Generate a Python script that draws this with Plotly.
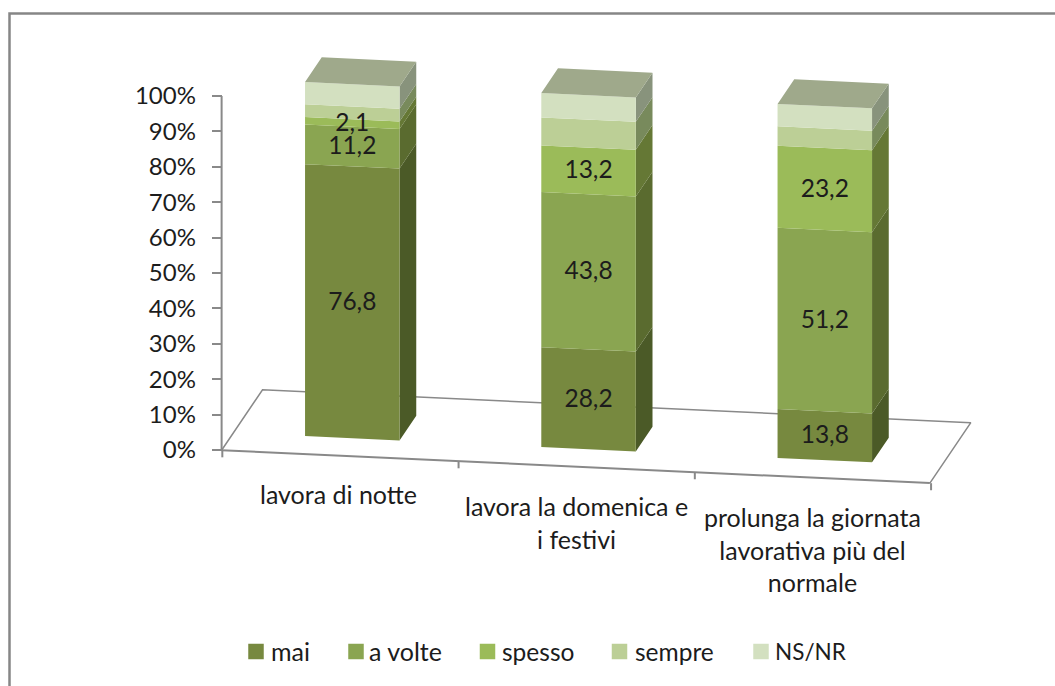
import plotly.graph_objects as go

categories = ["lavora di notte", "lavora la domenica e<br>i festivi",
              "prolunga la giornata<br>lavorativa più del<br>normale"]
mai = [76.8, 28.2, 13.8]
a_volte = [11.2, 43.8, 51.2]
spesso = [2.1, 13.2, 23.2]
sempre = [3.6, 7.9, 5.5]
ns_nr = [6.3, 6.9, 6.3]
y_ticks = list(range(0, 101, 10))

W, H = 1055, 686
PX_X = 236.25          # pixels per category
PX_Y = 3.54            # pixels per percent
X0_PX, Y0_PX = 352.3, 450.0
HALF = 0.2
DEPTH_X, DEPTH_Y = 0.0707, 6.97
BASE, SLANT = 3.33, 3.1
FLOOR_F, FLOOR_B = -0.71, 1.74
FLOOR_L, FLOOR_R = -0.503, 2.495
TICK = "#898989"
TXT = "#1c1c1c"
FONT = "Lato"


def proj(x, v, d=0.0):
    return x + DEPTH_X * d, BASE - SLANT * x + v + DEPTH_Y * d


def poly(pts):
    xs, ys = zip(*pts)
    return list(xs) + [xs[0], None], list(ys) + [ys[0], None]


series = [
    ("mai", mai, "#77893F", "#4B5A27", True),
    ("a volte", a_volte, "#8AA551", "#5A6B2F", True),
    ("spesso", spesso, "#9BBB59", "#657835", True),
    ("sempre", sempre, "#BCCF96", "#788A5C", False),
    ("NS/NR", ns_nr, "#D3E0C0", "#88937C", False),
]
TOP_COLOR = "#9FA98B"

fig = go.Figure()


def line(pts, width):
    xs, ys = zip(*pts)
    fig.add_trace(go.Scatter(x=xs, y=ys, mode="lines", showlegend=False, hoverinfo="skip",
                             line=dict(color=TICK, width=width)))


fl, fr = FLOOR_L, FLOOR_R
line([proj(fl, 0, FLOOR_F), proj(fl, 0, FLOOR_B), proj(fr, 0, FLOOR_B), proj(fr, 0, FLOOR_F)], 1.5)
line([proj(fl, 0, FLOOR_F), proj(fr, 0, FLOOR_F)], 2)
ax_x, _ = proj(fl, 0, FLOOR_F)
line([(ax_x, 0), (ax_x, 100)], 2)
# category separators on the floor edge
for k in [-0.5, 0.5, 1.5, 2.5]:
    xk, yk = proj(k, 0, FLOOR_F)
    line([(xk, yk), (xk, yk - 2.0)], 2)

cum = [0.0, 0.0, 0.0]
labels = []
for name, vals, col, side, labelled in series:
    fx, fy, sx, sy = [], [], [], []
    for i, v in enumerate(vals):
        a, b = cum[i], cum[i] + v
        l, r = i - HALF, i + HALF
        px, py = poly([proj(l, a), proj(r, a), proj(r, b), proj(l, b)])
        fx += px; fy += py
        px, py = poly([proj(r, a), proj(r, a, 1), proj(r, b, 1), proj(r, b)])
        sx += px; sy += py
        if labelled:
            mx, my = proj(i, (a + b) / 2)
            labels.append((mx, my - 0.4, f"{v:.1f}".replace(".", ",")))
        cum[i] = b
    fig.add_trace(go.Scatter(x=sx, y=sy, mode="lines", fill="toself", fillcolor=side,
                             line=dict(width=0, color=side), showlegend=False, hoverinfo="skip"))
    fig.add_trace(go.Scatter(x=fx, y=fy, mode="lines", fill="toself", fillcolor=col, name=name,
                             line=dict(width=0, color=col), showlegend=False, hoverinfo="skip"))

tx, ty = [], []
for i in range(3):
    l, r = i - HALF, i + HALF
    px, py = poly([proj(l, cum[i]), proj(r, cum[i]), proj(r, cum[i], 1), proj(l, cum[i], 1)])
    tx += px; ty += py
fig.add_trace(go.Scatter(x=tx, y=ty, mode="lines", fill="toself", fillcolor=TOP_COLOR,
                         line=dict(width=0, color=TOP_COLOR), showlegend=False, hoverinfo="skip"))

fig.add_trace(go.Scatter(x=[p[0] for p in labels], y=[p[1] for p in labels], text=[p[2] for p in labels],
                         mode="text", showlegend=False, hoverinfo="skip", textposition="middle center",
                         textfont=dict(family=FONT, size=24.5, color=TXT)))


def to_x(px):
    return (px - X0_PX) / PX_X


def to_y(py):
    return (Y0_PX - py) / PX_Y


# legend row
legend_swatch_px = [256, 356, 487.5, 619.5, 761]
legend_text_px = [268.5, 366.5, 499.5, 632.5, 773]
legend_font = [25, 25, 24.5, 24.5, 22.5]
for (name, vals, col, side, labelled), px, tpx, fs in zip(series, legend_swatch_px, legend_text_px, legend_font):
    fig.add_trace(go.Scatter(x=[to_x(px)], y=[to_y(651.5)], mode="markers", showlegend=False, hoverinfo="skip",
                             marker=dict(symbol="square", size=15.5, color=col, line=dict(width=0))))
    fig.add_annotation(x=to_x(tpx), y=to_y(651), text=name, showarrow=False, xanchor="left", yanchor="middle",
                       font=dict(family=FONT, size=fs, color=TXT))

# category labels
label_pos = [(338, 477), (576, 488.5), (812, 500)]
for c, (px, py) in zip(categories, label_pos):
    fig.add_annotation(x=to_x(px), y=to_y(py), text=c, showarrow=False, xanchor="center", yanchor="top",
                       align="center", font=dict(family=FONT, size=25, color=TXT))

fig.update_layout(
    width=W, height=H, margin=dict(l=0, r=0, t=0, b=0), autosize=False,
    paper_bgcolor="white", plot_bgcolor="white", showlegend=False,
    xaxis=dict(range=[to_x(0), to_x(W)], visible=False, fixedrange=True),
    yaxis=dict(range=[to_y(H), to_y(0)], anchor="free", position=221.7 / W, showgrid=False, zeroline=False,
               showline=False, tickvals=y_ticks, ticktext=[f"{t}%" for t in y_ticks], ticks="outside",
               ticklen=10, tickwidth=2, tickcolor=TICK, ticklabelstandoff=11,
               tickfont=dict(family=FONT, size=24, color=TXT), fixedrange=True),
    shapes=[dict(type="rect", xref="paper", yref="paper", x0=9.5 / W, x1=1.02, y0=1 - 13.5 / H, y1=-0.02,
                 line=dict(color="#868686", width=2.5), fillcolor="rgba(0,0,0,0)", layer="below")],
)

fig.write_html("out.html", config=dict(displayModeBar=False),
               post_script="document.body.style.margin='0';document.body.style.overflow='hidden';")
